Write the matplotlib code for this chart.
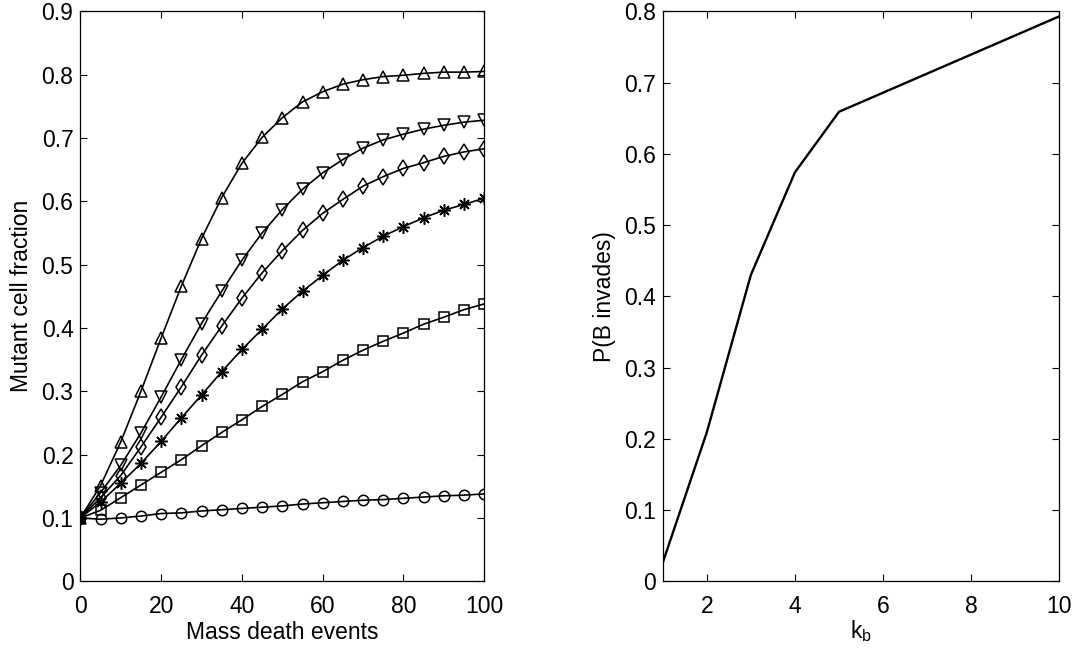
import numpy as np
import matplotlib.pyplot as plt

plt.rcParams['font.family'] = ['Liberation Sans', 'DejaVu Sans']
plt.rcParams['mathtext.default'] = 'regular'

# Left panel: mutant cell fraction vs mass death events
events = [0, 5, 10, 15, 20, 25, 30, 35, 40, 45, 50, 55, 60, 65, 70, 75, 80, 85, 90, 95, 100]

frac_up = [0.100, 0.151, 0.220, 0.300, 0.384, 0.466, 0.541, 0.606, 0.660, 0.701, 0.732,
           0.757, 0.773, 0.785, 0.792, 0.797, 0.799, 0.802, 0.804, 0.804, 0.805]
frac_down = [0.100, 0.140, 0.183, 0.234, 0.291, 0.350, 0.407, 0.458, 0.507, 0.550, 0.587,
             0.619, 0.645, 0.666, 0.684, 0.697, 0.706, 0.714, 0.720, 0.725, 0.728]
frac_diamond = [0.100, 0.132, 0.167, 0.212, 0.259, 0.307, 0.357, 0.403, 0.447, 0.487, 0.522,
                0.554, 0.581, 0.603, 0.624, 0.639, 0.652, 0.661, 0.671, 0.678, 0.683]
frac_star = [0.100, 0.125, 0.155, 0.186, 0.221, 0.258, 0.294, 0.331, 0.366, 0.398, 0.430,
             0.458, 0.483, 0.507, 0.527, 0.545, 0.560, 0.574, 0.586, 0.595, 0.605]
frac_square = [0.100, 0.112, 0.132, 0.152, 0.172, 0.192, 0.214, 0.235, 0.255, 0.276, 0.295,
               0.315, 0.331, 0.349, 0.365, 0.379, 0.392, 0.406, 0.417, 0.429, 0.438]
frac_circle = [0.100, 0.098, 0.100, 0.103, 0.107, 0.108, 0.111, 0.113, 0.115, 0.117, 0.119,
               0.122, 0.124, 0.126, 0.128, 0.129, 0.131, 0.133, 0.135, 0.136, 0.138]

# Right panel: invasion probability vs k_b
kb = [1, 2, 3, 4, 5, 10]
p_invade = [0.026, 0.209, 0.430, 0.574, 0.659, 0.793]

fig = plt.figure(figsize=(10.9, 6.58), dpi=100)
ax1 = fig.add_axes([0.0737, 0.1166, 0.3706, 0.8662])
ax2 = fig.add_axes([0.608, 0.1166, 0.3639, 0.8662])

series = [
    (frac_circle, 'o', 7.5),
    (frac_square, 's', 7),
    (frac_star, (8, 2, 0), 9),
    (frac_diamond, 'd', 8.5),
    (frac_down, 'v', 9),
    (frac_up, '^', 9),
]
for vals, mk, ms in series:
    ax1.plot(events, vals, color='black', lw=1.2, marker=mk, ms=ms,
             mfc='none', mec='black', mew=1.1)

ax1.set_xlim(0, 100)
ax1.set_ylim(0, 0.9)
ax1.set_xticks(np.arange(0, 101, 20))
ax1.set_yticks(np.arange(0, 0.91, 0.1))
ax1.set_yticklabels(['0', '0.1', '0.2', '0.3', '0.4', '0.5', '0.6', '0.7', '0.8', '0.9'])
ax1.set_xlabel('Mass death events', fontsize=16.5, labelpad=2)
ax1.set_ylabel('Mutant cell fraction', fontsize=16.5, labelpad=6)

ax2.plot(kb, p_invade, color='black', lw=1.7)
ax2.set_xlim(1, 10)
ax2.set_ylim(0, 0.8)
ax2.set_xticks([2, 4, 6, 8, 10])
ax2.set_yticks(np.arange(0, 0.81, 0.1))
ax2.set_yticklabels(['0', '0.1', '0.2', '0.3', '0.4', '0.5', '0.6', '0.7', '0.8'])
ax2.set_xlabel('k$_{b}$', fontsize=16.5, labelpad=0)
ax2.set_ylabel('P(B invades)', fontsize=16.5, labelpad=6)

for ax in (ax1, ax2):
    ax.tick_params(direction='in', top=True, right=True, length=5, width=0.8,
                   labelsize=16.5)
    ax.tick_params(axis='x', pad=10)
    ax.tick_params(axis='y', pad=5)
    for sp in ax.spines.values():
        sp.set_linewidth(0.9)

fig.savefig('out.png', dpi=100)
